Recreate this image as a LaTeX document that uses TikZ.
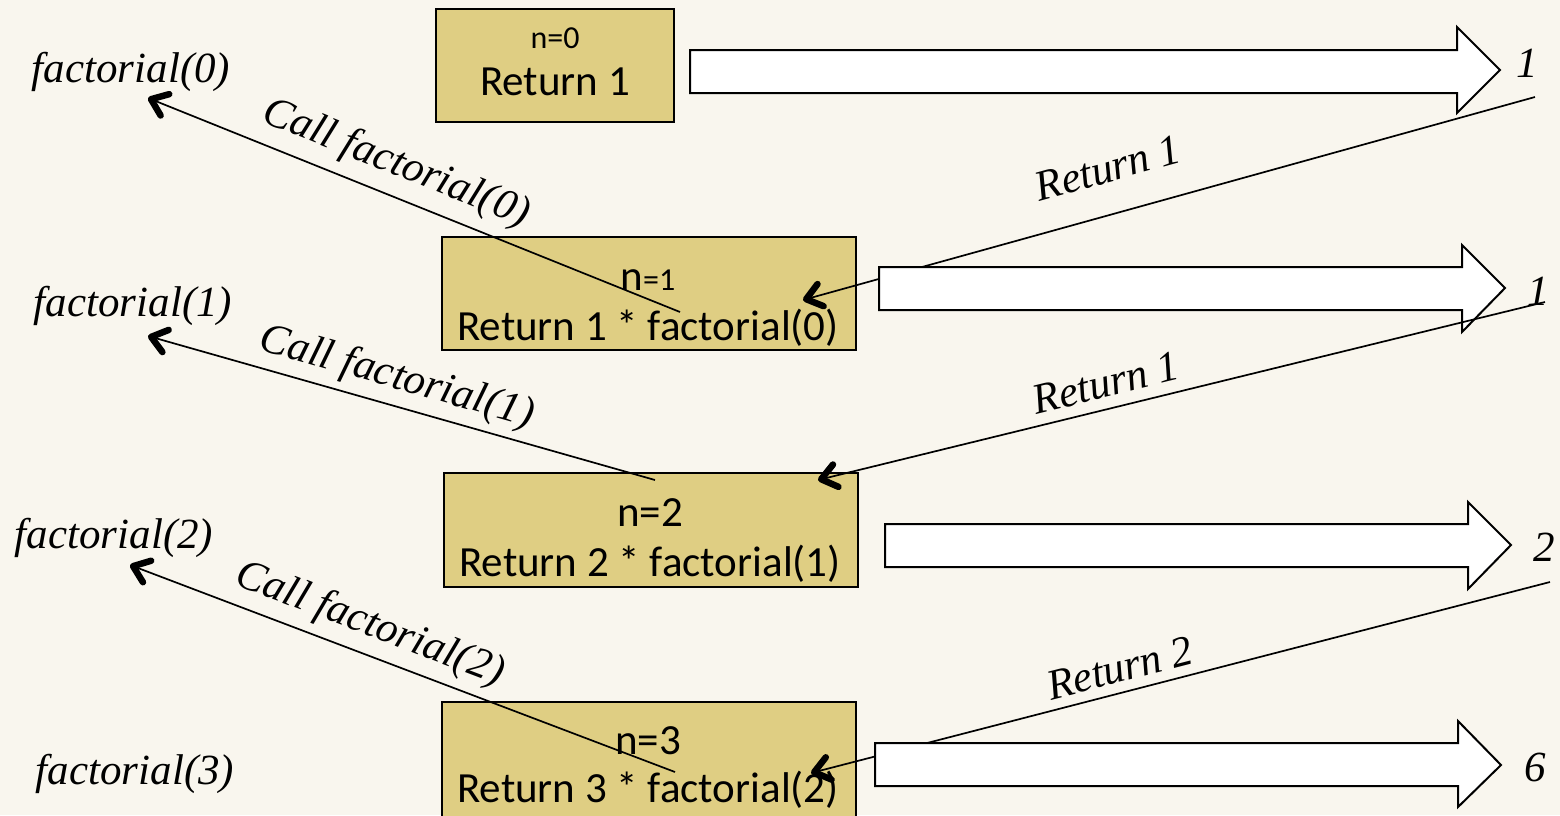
\documentclass[tikz,border=0pt]{standalone}
\usepackage{fontspec}
\setmainfont{Liberation Serif}
\newfontfamily\boxfont{Carlito}
\usetikzlibrary{arrows.meta}
\definecolor{bg}{RGB}{249,246,238}
\definecolor{boxfill}{RGB}{223,206,131}
\tikzset{
  frame/.style={draw=black, line width=1.5pt, fill=boxfill, inner sep=0pt},
  blockarrow/.style={draw=black, line width=2pt, fill=white, line join=miter},
  conn/.style={draw=black, line width=1.7pt, -{Straight Barb[length=15pt,width=23pt,line width=6.5pt 0 1,round]}},
  lbl/.style={font=\fontsize{43}{50}\selectfont\itshape, inner sep=0pt},
  bigtxt/.style={font=\boxfont\fontsize{43}{50}\selectfont, inner sep=0pt, anchor=base},
  smalltxt/.style={font=\boxfont\fontsize{32}{38}\selectfont, inner sep=0pt, anchor=base},
}
\begin{document}
\begin{tikzpicture}[x=1pt,y=-1pt]
\useasboundingbox[fill=bg] (0,0) rectangle (1560,815);

% boxes
\node[frame, minimum width=238pt, minimum height=113pt] (b0) at (555,65.5) {};
\node[frame, minimum width=414pt, minimum height=113pt] (b1) at (649,293.5) {};
\node[frame, minimum width=414pt, minimum height=114pt] (b2) at (651,530) {};
\node[frame, minimum width=414pt, minimum height=120pt] (b3) at (649,762) {};

% box texts
\node[smalltxt] (t0a) at (555,48) {n=0};
\node[bigtxt] (t0b) at (555,95) {Return 1};
\node[bigtxt] (t1a) at (648,290) {n{\fontsize{32}{38}\selectfont=1}};
\node[bigtxt] (t1b) at (648,340) {Return 1 * factorial(0)};
\node[bigtxt] (t2a) at (650,526) {n=2};
\node[bigtxt] (t2b) at (650,576) {Return 2 * factorial(1)};
\node[bigtxt] (t3a) at (648,754) {n=3};
\node[bigtxt] (t3b) at (648,802) {Return 3 * factorial(2)};

% left labels
\node[lbl, anchor=base] (f0) at (131,82) {factorial(0)};
\node[lbl, anchor=base] (f1) at (133,316) {factorial(1)};
\node[lbl, anchor=base] (f2) at (114,548) {factorial(2)};
\node[lbl, anchor=base] (f3) at (135,784) {factorial(3)};

% right values
\node[lbl, anchor=base] (r0) at (1527,77) {1};
\node[lbl, anchor=base] (r1) at (1538,305) {1};
\node[lbl, anchor=base] (r2) at (1544,561) {2};
\node[lbl, anchor=base] (r3) at (1535,781) {6};

% connector end points
\coordinate (c0s) at (680,312);
\coordinate (c0e) at (148,98);
\coordinate (c1s) at (655,480);
\coordinate (c1e) at (148,336);
\coordinate (c2s) at (675,772);
\coordinate (c2e) at (130,565);
\coordinate (q0s) at (1535,97);
\coordinate (q0e) at (803,300);
\coordinate (q1s) at (1545,302);
\coordinate (q1e) at (818,480);
\coordinate (q2s) at (1550,582);
\coordinate (q2e) at (811,773);

% call connectors
\draw[conn] (c0s) -- (c0e);
\draw[conn] (c1s) -- (c1e);
\draw[conn] (c2s) -- (c2e);
% return connectors lying under the block arrows
\draw[conn] (q0s) -- (q0e);
\draw[conn] (q2s) -- (q2e);

% block arrows
\draw[blockarrow] (690,50) -- (1457,50) -- (1457,27) -- (1500,70) -- (1457,113) -- (1457,93) -- (690,93) -- cycle;
\draw[blockarrow] (879,267) -- (1462,267) -- (1462,245) -- (1505,288) -- (1462,332) -- (1462,310) -- (879,310) -- cycle;
\draw[blockarrow] (885,524) -- (1468,524) -- (1468,502) -- (1511,545) -- (1468,589) -- (1468,567) -- (885,567) -- cycle;
\draw[blockarrow] (875,743) -- (1458,743) -- (1458,721) -- (1501,765) -- (1458,807) -- (1458,786) -- (875,786) -- cycle;

% return connector over the second block arrow
\draw[conn] (q1s) -- (q1e);

% connector labels
\node[lbl, rotate=-21.9] (l0) at (396,164) {Call factorial(0)};
\node[lbl, rotate=-15.9] (l1) at (397,378) {Call factorial(1)};
\node[lbl, rotate=-20.8] (l2) at (370,625) {Call factorial(2)};
\node[lbl, rotate=15.5] (m0) at (1108,168) {Return 1};
\node[lbl, rotate=13.8] (m1) at (1106,383) {Return 1};
\node[lbl, rotate=14.5] (m2) at (1120,668) {Return 2};
\end{tikzpicture}
\end{document}
